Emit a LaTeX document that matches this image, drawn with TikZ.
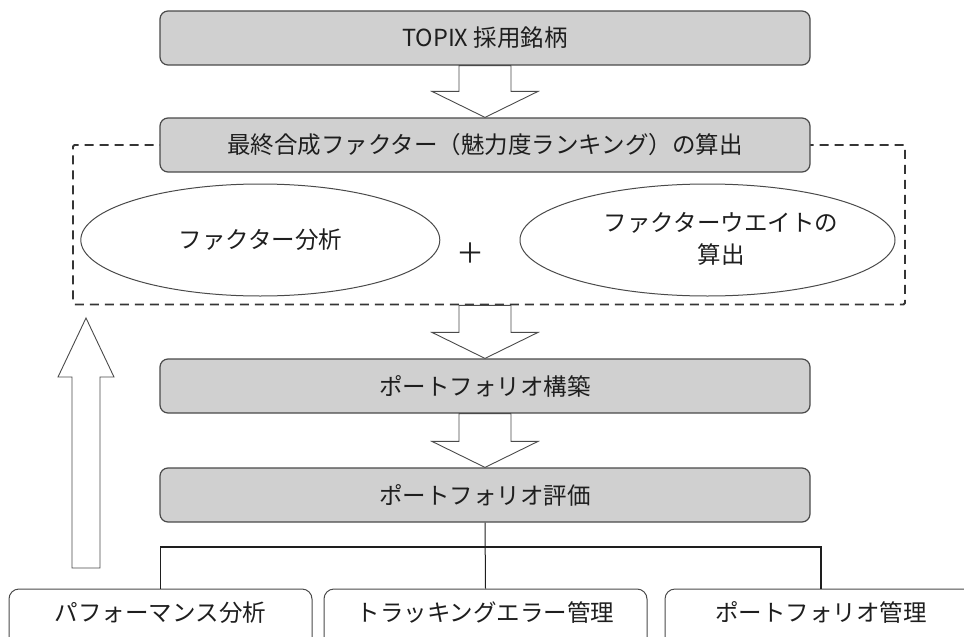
\documentclass[tikz,border=0pt]{standalone}
\usepackage{fontspec}
\setmainfont{Noto Sans CJK JP}
\usetikzlibrary{calc,shapes.geometric}
\definecolor{boxgray}{HTML}{D0D0D0}
\definecolor{edge}{HTML}{4A4A4A}
\definecolor{ink}{HTML}{1E1E1E}
\newcommand\blkarrow[2]{%
  \draw[barrow] ($(#1)+(-26,0)$) -- ($(#2)+(-26,-26)$) -- ($(#2)+(-53,-26)$) -- (#2)
    -- ($(#2)+(53,-26)$) -- ($(#2)+(26,-26)$) -- ($(#1)+(26,0)$) -- cycle;}
\begin{document}
\begin{tikzpicture}[x=1pt,y=-1pt,
  txt/.style={text=ink, font=\fontsize{23.5pt}{32pt}\selectfont},
  graybox/.style={txt, draw=edge, line width=1.2pt, fill=boxgray, rounded corners=8pt,
    minimum width=650pt, minimum height=54pt, inner sep=0pt},
  whitebox/.style={txt, draw=edge, line width=1pt, fill=white, rounded corners=10pt,
    inner sep=0pt, text height=32pt, text depth=28pt},
  oval/.style={txt, draw=edge, line width=1pt, ellipse, inner sep=0pt, minimum height=112pt},
  dashedbox/.style={draw=ink!90, line width=1.8pt, dash pattern=on 9pt off 6pt,
    rounded corners=1.5pt, inner sep=0pt},
  barrow/.style={draw=edge, line width=0.9pt, fill=white, line join=miter},
  conn/.style={draw=ink, line width=1pt},
  bracket/.style={draw=ink, line width=1.7pt}]
\useasboundingbox (0,0) rectangle (964,637);
\clip (0,0) rectangle (964,637);

% dashed group
\node[dashedbox, minimum width=832pt, minimum height=159.5pt] (grp) at (489,224.75) {};

% main boxes
\node[graybox] (b1) at (485,38) {TOPIX 採用銘柄};
\node[graybox] (b2) at (485,145) {最終合成ファクター（魅力度ランキング）の算出};
\node[graybox] (b3) at (485,386) {ポートフォリオ構築};
\node[graybox] (b4) at (485,495) {ポートフォリオ評価};

% ellipses
\node[oval, minimum width=359pt] (e1) at (260.3,240) {ファクター分析};
\node[oval, minimum width=375pt] (e2) at (707.5,240) {};
\node[txt, align=center] (e2t) at (721,239) {ファクターウエイトの\\算出};
\node[txt, font=\fontsize{28pt}{32pt}\selectfont] (plus) at (470.5,253) {＋};

% block arrows
\blkarrow{b1.south}{b2.north}
\coordinate (a2top) at (b3.north |- grp.south);
\blkarrow{a2top}{b3.north}
\blkarrow{b3.south}{b4.north}

% feedback arrow
\coordinate (fb) at (86,318);
\draw[barrow] ($(fb)+(-14,250)$) -- ($(fb)+(-14,59)$) -- ($(fb)+(-28,59)$) -- (fb)
  -- ($(fb)+(28,59)$) -- ($(fb)+(14,59)$) -- ($(fb)+(14,250)$) -- cycle;

% bottom boxes
\node[whitebox, minimum width=303pt] (bA) at (160.5,619) {パフォーマンス分析};
\node[whitebox, minimum width=323pt] (bB) at (485.5,619) {トラッキングエラー管理};
\node[whitebox, minimum width=312pt] (bC) at (821,619) {ポートフォリオ管理};

% connectors
\coordinate (hl) at (485,547);
\draw[conn] (b4.south) -- (bB.north);
\draw[bracket] (bA.north) -- (bA.north |- hl) -- (bC.north |- hl) -- (bC.north);
\end{tikzpicture}
\end{document}
